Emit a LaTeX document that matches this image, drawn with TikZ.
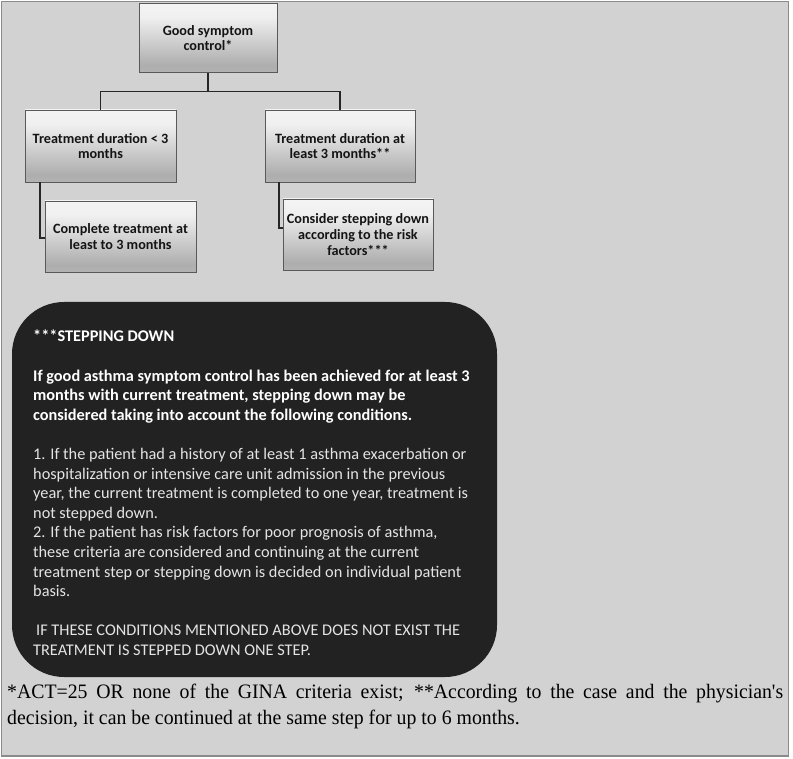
\documentclass[tikz,border=0pt]{standalone}
\usepackage{fontspec}
\setmainfont{Carlito}
\newfontfamily\serifft[FakeStretch=0.965]{Liberation Serif}
\definecolor{bgray}{HTML}{D2D2D2}
\definecolor{framegray}{HTML}{8A8A8A}
\definecolor{darkbox}{HTML}{222222}
\definecolor{lighttext}{HTML}{E4E4E4}
\pgfdeclareverticalshading{boxshade}{100bp}{color(0bp)=(black!18); color(12bp)=(black!24); color(30bp)=(black!32); color(65bp)=(black!6); color(100bp)=(white)}
\tikzset{
  chartbox/.style={draw=black!65, line width=0.7pt, shading=boxshade, align=center,
    font=\fontsize{14.2}{15.7}\selectfont\bfseries, text=black!92, inner sep=2pt},
  conn/.style={draw=black!85, line width=1.3pt},
}
\begin{document}
\begin{tikzpicture}[x=1pt,y=-1pt]
\useasboundingbox (0,0) rectangle (793,759);
\fill[white] (0,0) rectangle (793,759);
\draw[fill=bgray, draw=framegray, line width=1.2pt] (1.5,1.5) rectangle (788.5,756);
% chart
\node[chartbox, minimum width=138pt, minimum height=69pt] (top) at (208,38) {Good symptom\\control*};
\node[chartbox, minimum width=151pt, minimum height=72pt] (l) at (100.5,146) {Treatment duration < 3\\months};
\node[chartbox, minimum width=150pt, minimum height=72pt] (r) at (340,146) {Treatment duration at\\least 3 months**};
\node[chartbox, minimum width=151pt, minimum height=71pt] (lc) at (120.5,236.5) {Complete treatment at\\least to 3 months};
\node[chartbox, minimum width=150pt, minimum height=71pt] (rc) at (358,234.5) {Consider stepping down\\according to the risk\\factors***};
\draw[conn] (top.south) -- ++(0,19) -| (l.north);
\draw[conn] (top.south) -- ++(0,19) -| (r.north);
\draw[conn] ([xshift=-60.5pt]l.south) |- ([yshift=-1.5pt]lc.west);
\draw[conn] ([xshift=-61pt]r.south) |- ([yshift=6.5pt]rc.west);
% dark box
\node[fill=darkbox, rounded corners=52pt, minimum width=485pt, minimum height=375pt, inner sep=0pt] (dark) at (254.5,489.5) {};
\node[anchor=north west, inner sep=0pt, align=left, text=lighttext,
  font=\fontsize{16.3}{19.6}\selectfont] (darktext) at (33,330) {%
{\bfseries\color{white}***STEPPING DOWN}\\[19.6pt]
{\bfseries\color{white}If good asthma symptom control has been achieved for at least 3}\\
{\bfseries\color{white}months with current treatment, stepping down may be}\\
{\bfseries\color{white}considered taking into account the following conditions.}\\[19.6pt]
1. If the patient had a history of at least 1 asthma exacerbation or\\
hospitalization or intensive care unit admission in the previous\\
year, the current treatment is completed to one year, treatment is\\
not stepped down.\\
2. If the patient has risk factors for poor prognosis of asthma,\\
these criteria are considered and continuing at the current\\
treatment step or stepping down is decided on individual patient\\
basis.\\[19.6pt]
\hspace*{3pt}IF THESE CONDITIONS MENTIONED ABOVE DOES NOT EXIST THE\\
TREATMENT IS STEPPED DOWN ONE STEP.};
% footnote
\node[anchor=north west, inner sep=0pt, text width=776pt, align=justify,
  font=\serifft\fontsize{20.5}{26}\selectfont] (foot) at (7,684) {*ACT=25 OR none of the GINA criteria exist; **According to the case and the physician's\linebreak decision, it can be continued at the same step for up to 6 months.};
\end{tikzpicture}
\end{document}
